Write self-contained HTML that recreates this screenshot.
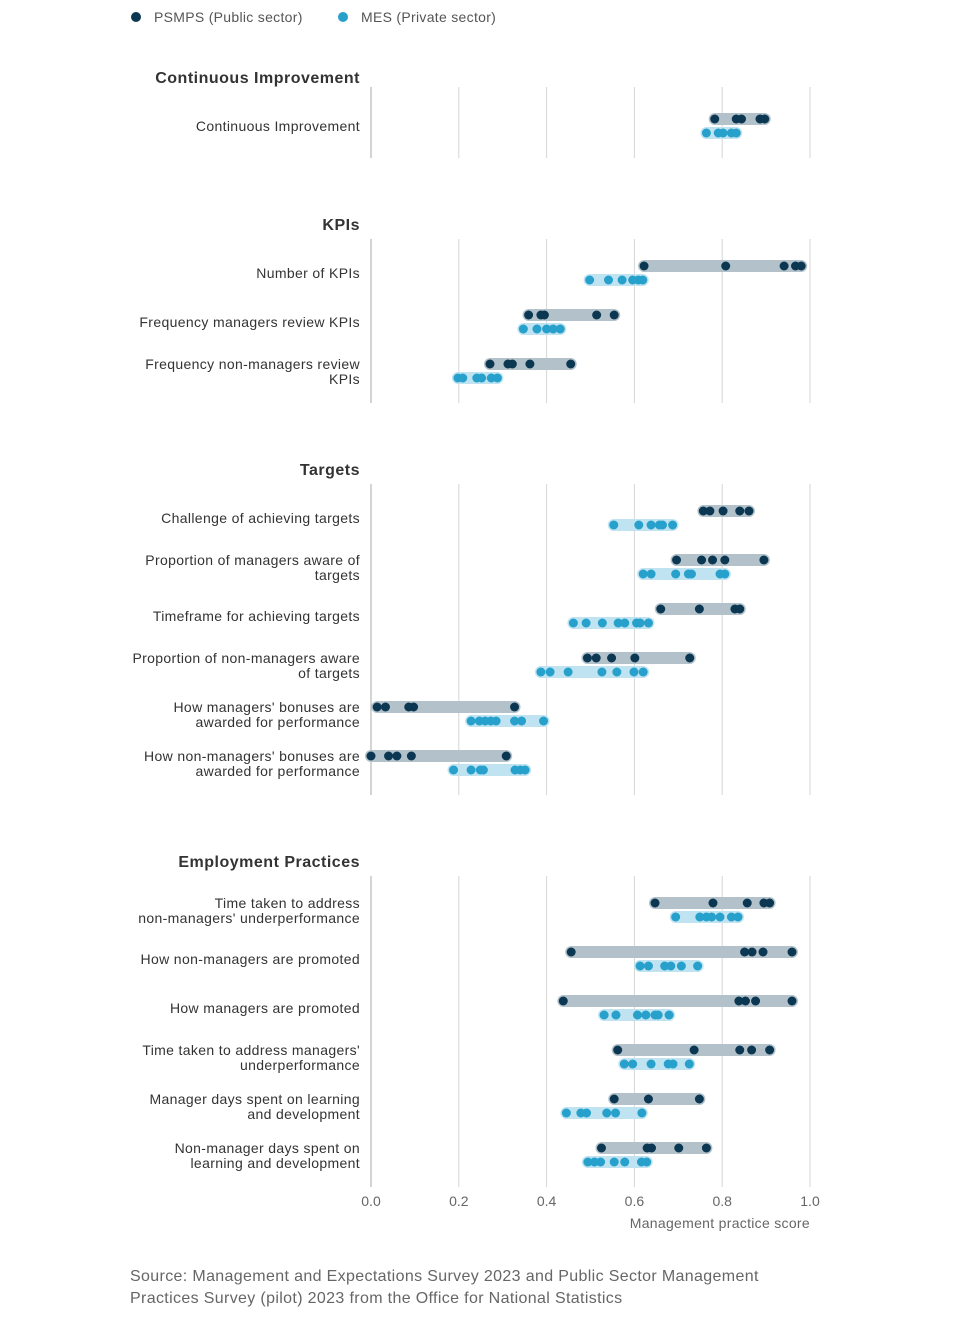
<!DOCTYPE html>
<html><head><meta charset="utf-8"><style>
body{margin:0;background:#fff;width:960px;height:1326px;overflow:hidden;font-family:"Liberation Sans",sans-serif}
svg text{font-family:"Liberation Sans",sans-serif}
</style></head><body>
<svg id="chart" width="960" height="1326" xmlns="http://www.w3.org/2000/svg">
<defs><clipPath id="lblclip"><rect x="130" y="0" width="240" height="1326"/></clipPath></defs>
<g>
<circle cx="136" cy="17" r="5" fill="#0b3752"/>
<text x="154" y="22" font-size="14" letter-spacing="0.3" fill="#555">PSMPS (Public sector)</text>
<circle cx="343" cy="17" r="5" fill="#27a0cc"/>
<text x="361" y="22" font-size="14" letter-spacing="0.3" fill="#555">MES (Private sector)</text>
</g>
<g id="plot"></g>
<text x="810" y="1228" text-anchor="end" font-size="14" letter-spacing="0.3" fill="#666">Management practice score</text>
<text x="130" y="1281" font-size="16" letter-spacing="0.35" fill="#666">Source: Management and Expectations Survey 2023 and Public Sector Management</text>
<text x="130" y="1303" font-size="16" letter-spacing="0.35" fill="#666">Practices Survey (pilot) 2023 from the Office for National Statistics</text>
</svg>
<script>
const groupTitles=["Continuous Improvement","KPIs","Targets","Employment Practices"];
const rowLabels=[
 [["Continuous Improvement"]],
 [["Number of KPIs"],["Frequency managers review KPIs"],["Frequency non-managers review","KPIs"]],
 [["Challenge of achieving targets"],["Proportion of managers aware of","targets"],["Timeframe for achieving targets"],["Proportion of non-managers aware","of targets"],["How managers' bonuses are","awarded for performance"],["How non-managers' bonuses are","awarded for performance"]],
 [["Time taken to address","non-managers' underperformance"],["How non-managers are promoted"],["How managers are promoted"],["Time taken to address managers'","underperformance"],["Manager days spent on learning","and development"],["Non-manager days spent on","learning and development"]]
];
const psmps=[
 [[0.783,0.832,0.844,0.886,0.897]],
 [[0.622,0.808,0.941,0.967,0.980],[0.359,0.387,0.395,0.514,0.554],[0.271,0.312,0.322,0.362,0.455]],
 [[0.757,0.772,0.802,0.840,0.861],[0.696,0.753,0.778,0.806,0.895],[0.660,0.748,0.829,0.840],[0.493,0.513,0.548,0.601,0.726],[0.014,0.033,0.086,0.097,0.327],[0.0,0.040,0.059,0.092,0.308]],
 [[0.647,0.779,0.857,0.895,0.908],[0.456,0.851,0.868,0.893,0.959],[0.438,0.838,0.853,0.876,0.959],[0.562,0.736,0.840,0.867,0.908],[0.554,0.632,0.748],[0.525,0.629,0.639,0.701,0.764]]
];
const mes=[
 [[0.764,0.791,0.802,0.821,0.832]],
 [[0.498,0.541,0.572,0.596,0.609,0.619],[0.347,0.378,0.400,0.415,0.431],[0.198,0.209,0.241,0.252,0.274,0.288]],
 [[0.553,0.610,0.638,0.657,0.664,0.687],[0.620,0.638,0.694,0.723,0.730,0.795,0.806],[0.461,0.490,0.527,0.563,0.578,0.605,0.613,0.632],[0.387,0.408,0.449,0.526,0.560,0.599,0.620],[0.228,0.247,0.260,0.273,0.285,0.327,0.343,0.393],[0.188,0.228,0.249,0.256,0.328,0.340,0.351]],
 [[0.694,0.749,0.764,0.776,0.795,0.821,0.836],[0.613,0.632,0.669,0.683,0.707,0.744],[0.531,0.558,0.607,0.626,0.647,0.654,0.679],[0.577,0.596,0.638,0.677,0.688,0.725],[0.445,0.478,0.491,0.537,0.557,0.617],[0.494,0.509,0.523,0.554,0.578,0.616,0.628]]
];
const ticks=[0,0.2,0.4,0.6,0.8,1.0];
const tickLabels=["0.0","0.2","0.4","0.6","0.8","1.0"];

const NS="http://www.w3.org/2000/svg";
const X0=371,X1=810;
function xs(v){return X0+(X1-X0)*v;}
const plot=document.getElementById('plot');
function mk(tag,attrs,parent){const e=document.createElementNS(NS,tag);for(const k in attrs)e.setAttribute(k,attrs[k]);(parent||plot).appendChild(e);return e;}
const groupTop=[77,224,469,861];
const gridTop=[87,239,484,876];
groupTitles.forEach((t,gi)=>{
 const g=mk('g',{});
 
 
 const ty=groupTop[gi];
 const title=mk('text',{x:360,y:ty+6,'text-anchor':'end','font-size':16,'font-weight':'bold','letter-spacing':0.5,fill:'#333'},g);
 title.textContent=t;
 
 
 const n=rowLabels[gi].length;
 const gTop=gridTop[gi], gBot=ty+10+22+n*49;
 ticks.forEach((tv,i)=>{
  const l=mk('line',{x1:xs(tv),x2:xs(tv),y1:gTop,y2:gBot,stroke:i==0?'#aaa':'#d6d6d6','stroke-width':1},g);
  
  
 });
 rowLabels[gi].forEach((lab,ri)=>{
  const dy=ty+42+ri*49, ly=dy+14;
  const lt=mk('text',{'clip-path':'url(#lblclip)','text-anchor':'end','font-size':14,'letter-spacing':0.35,fill:'#333'},g);
  
  
  if(lab.length==1){const s=mk('tspan',{x:360,y:dy+12},lt);s.textContent=lab[0];}
  else{lab.forEach((ln,k)=>{const s=mk('tspan',{x:360,y:dy+5+k*15},lt);s.textContent=ln;});}
  [[psmps,dy,'#b3c2ca','#0b3752','psmps'],[mes,ly,'#bfe3f0','#27a0cc','mes']].forEach(([arr,yy,bc,dc,nm])=>{
   const vals=arr[gi][ri];
   const mn=Math.min(...vals),mx=Math.max(...vals);
   const b=mk('rect',{x:xs(mn)-6,y:yy-6,width:xs(mx)-xs(mn)+12,height:12,rx:6,fill:bc},g);
   
   
   vals.forEach(v=>{
    const c=mk('circle',{cx:xs(v),cy:yy,r:4.5,fill:dc},g);
    
    
   });
  });
 });
});
ticks.forEach((tv,i)=>{
 const t=mk('text',{x:xs(tv),y:1206,'text-anchor':'middle','font-size':14,fill:'#666'});
 t.textContent=tickLabels[i];
 
 
});
</script>
</body></html>
